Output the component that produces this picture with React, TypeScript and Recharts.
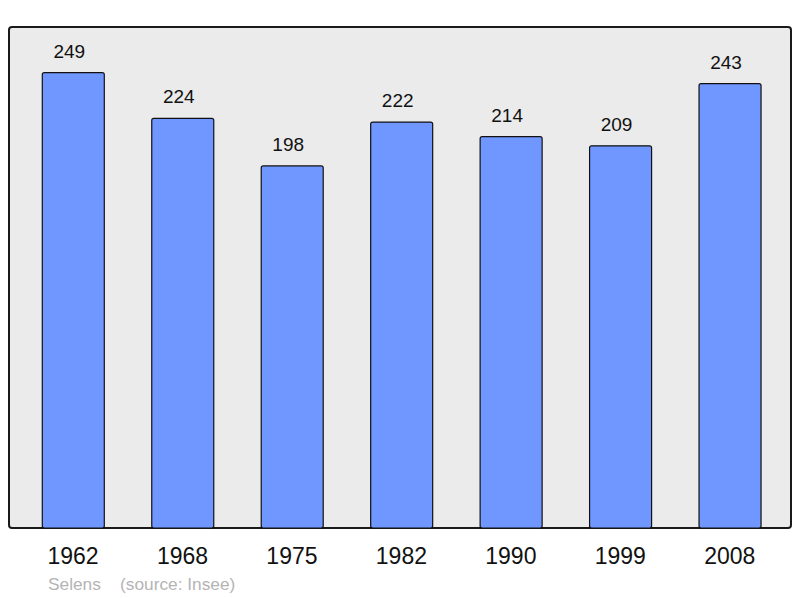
import React from 'react';
import { BarChart, Bar, XAxis, YAxis, LabelList } from 'recharts';

const years = ['1962', '1968', '1975', '1982', '1990', '1999', '2008'];
const population = [249, 224, 198, 222, 214, 209, 243];
const sourceText = 'Selens    (source: Insee)';

const data = years.map((y, i) => ({ year: y, pop: population[i] }));

const YearTick = (props: any) => {
  const { x, y, payload } = props;
  return (
    <text x={x} y={y + 36} textAnchor="middle" fontSize={23} fill="#111" fontFamily="'Liberation Sans', Arial, sans-serif">
      {payload.value}
    </text>
  );
};

const ValueLabel = (props: any) => {
  const { x, y, width, value } = props;
  return (
    <text x={x + width / 2 - 4} y={y - 15} textAnchor="middle" fontSize={19} fill="#111" fontFamily="'Liberation Sans', Arial, sans-serif">
      {value}
    </text>
  );
};

export default function App() {
  return (
    <div style={{ position: 'absolute', left: 0, top: 0, width: 800, height: 598, background: '#fff' }}>
      <div
        style={{
          position: 'absolute',
          left: 8,
          top: 26,
          width: 784,
          height: 503,
          boxSizing: 'border-box',
          border: '2px solid #1a1a1a',
          borderRadius: 4,
          background: '#ebebeb',
        }}
      />
      <div style={{ position: 'absolute', left: 0, top: 0 }}>
        <BarChart width={800} height={598} data={data} margin={{ top: 27, right: 9, bottom: 30, left: 9 }}>
          <XAxis
            dataKey="year"
            height={40}
            axisLine={false}
            tickLine={false}
            tickSize={0}
            tickMargin={0}
            padding={{ left: 9.3, right: 6.5 }}
            tick={<YearTick />}
            interval={0}
          />
          <YAxis hide domain={[0, 274]} />
          <Bar dataKey="pop" fill="#7096ff" stroke="#111" strokeWidth={1.2} barSize={62} radius={2} isAnimationActive={false}>
            <LabelList dataKey="pop" content={<ValueLabel />} />
          </Bar>
        </BarChart>
      </div>
      <div
        style={{
          position: 'absolute',
          left: 48,
          top: 574,
          fontSize: 17.3,
          color: '#b4b4b4',
          fontFamily: "'Liberation Sans', Arial, sans-serif",
          whiteSpace: 'pre',
          lineHeight: '20px',
        }}
      >
        {sourceText}
      </div>
    </div>
  );
}
